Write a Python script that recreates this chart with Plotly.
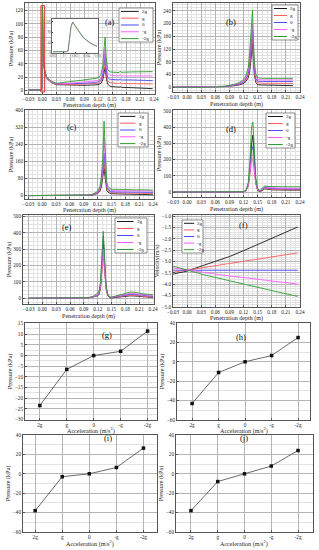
import plotly.graph_objects as go

# ---------------- data ----------------
series_names = ["2g", "g", "0", "-g", "-2g"]
accel_labels = ["2g", "g", "0", "-g", "-2g"]

# (a) pressure vs penetration depth
depth_a = [-0.03, -0.002, -0.0005, 0.0005, 0.0015, 0.003, 0.006, 0.01, 0.02, 0.03, 0.06, 0.09, 0.11, 0.12,
           0.126, 0.13, 0.133, 0.135, 0.137, 0.14, 0.145, 0.15, 0.16, 0.165, 0.167, 0.17, 0.19, 0.21, 0.23, 0.237]
a_2g = [1, 1, 5, 124, 70, 40, 25, 18, 12, 9, 8, 8, 8.5, 9, 11, 16, 28, 35, 22, 10, 7, 6, 5.5, 5, 6, 5, 4.5, 4, 3.5, 3]
a_g = [1, 1, 5, 124, 70, 40, 25, 18, 12, 9.5, 9, 10, 10.5, 11, 14, 21, 36, 45, 28, 15, 12, 11.5, 11, 10.5, 12, 10.5, 10.5, 10, 10, 10]
a_0 = [1, 1, 5, 125, 71, 41, 26, 19, 13, 10, 10, 11, 12, 13, 16, 25, 43, 55, 35, 20, 17, 16.5, 16, 16, 17.5, 16, 16, 15.5, 15, 15]
a_mg = [1, 1, 5, 125, 72, 42, 27, 19, 13, 10.5, 11, 13, 14.5, 15, 19, 30, 50, 63, 42, 26, 23, 22.5, 22, 22, 24, 22, 22, 22, 22, 22]
a_m2g = [1, 1, 5, 126, 73, 43, 28, 20, 14, 11, 13, 16, 18, 19, 24, 38, 65, 80, 52, 32, 28, 27.5, 27, 27, 29, 27.5, 28, 28, 28.5, 28.5]

# (a) inset: first impact peak
inset_depth = [-0.0018, 0.0005, 0.0008, 0.001, 0.0013, 0.0016, 0.0024, 0.0035, 0.0046, 0.0058]
inset_mg = [5, 5, 8, 52, 100, 119, 90, 57, 38, 25]
inset_m2g = [5, 5, 8, 52, 100, 118, 91, 58, 39, 26]

# (b)
depth_b = [-0.03, 0.06, 0.08, 0.09, 0.1, 0.11, 0.12, 0.125, 0.13, 0.133, 0.136, 0.139, 0.141, 0.143,
           0.146, 0.15, 0.16, 0.18, 0.2, 0.225]
b_2g = [0, 0.5, 2, 3, 5, 7, 12, 18, 30, 50, 90, 140, 80, 40, 15, 8, 7, 6, 5.5, 5]
b_g = [0, 0.5, 2, 4, 6, 9, 15, 22, 38, 65, 115, 160, 95, 45, 22, 14, 12.5, 12.5, 12, 12]
b_0 = [0, 0.5, 2, 4, 7, 10, 17, 26, 45, 78, 135, 180, 110, 55, 28, 19, 18, 18, 18, 18]
b_mg = [0, 0.5, 2.5, 4.5, 8, 12, 20, 30, 52, 90, 155, 200, 125, 65, 35, 24, 23, 23, 23, 23]
b_m2g = [0, 0.5, 3, 5, 9, 14, 24, 36, 62, 110, 190, 242, 150, 80, 42, 30, 28, 28, 28, 28]

# (c)
depth_c = [-0.03, 0.09, 0.1, 0.11, 0.12, 0.125, 0.128, 0.131, 0.134, 0.136, 0.138, 0.14, 0.143, 0.147,
           0.15, 0.16, 0.18, 0.2, 0.22, 0.24]
c_2g = [0, 0, 1, 3, 10, 20, 40, 80, 130, 90, 45, 25, 15, 10, 9, 8, 7, 6, 5, 4]
c_g = [0, 0, 1, 4, 12, 25, 50, 100, 160, 120, 60, 32, 22, 16, 14, 13, 12, 11, 11, 10]
c_0 = [0, 0, 1, 5, 14, 30, 60, 120, 200, 150, 75, 40, 28, 20, 18, 17, 16, 15, 15, 15]
c_mg = [0, 0, 1.5, 6, 16, 35, 70, 140, 270, 190, 95, 50, 35, 26, 24, 23, 23, 22, 22, 22]
c_m2g = [0, 0, 2, 7, 20, 42, 85, 170, 350, 240, 120, 60, 42, 32, 30, 29, 28, 27, 27, 26]

# (d)
depth_d = [-0.03, 0.11, 0.12, 0.125, 0.13, 0.134, 0.137, 0.14, 0.143, 0.146, 0.15, 0.155, 0.16, 0.165,
           0.17, 0.18, 0.2, 0.22, 0.24]
d_2g = [0, 0, 2, 8, 40, 150, 300, 350, 200, 60, 10, 3, 10, 20, 18, 14, 13, 12, 12]
d_g = [0, 0, 2, 8, 35, 120, 210, 200, 130, 50, 12, 5, 14, 25, 22, 17, 16, 15, 15]
d_0 = [0, 0, 2, 9, 40, 140, 260, 280, 170, 60, 15, 6, 18, 30, 27, 22, 20, 19, 19]
d_mg = [0, 0, 2, 9, 40, 130, 220, 230, 150, 55, 15, 8, 22, 34, 31, 27, 25, 24, 24]
d_m2g = [0, 0, 3, 12, 60, 220, 400, 430, 260, 90, 20, 10, 25, 38, 35, 33, 33, 33, 33]

# (e)
depth_e = [-0.03, 0.08, 0.1, 0.11, 0.115, 0.12, 0.123, 0.126, 0.129, 0.132, 0.135, 0.138, 0.142, 0.146,
           0.15, 0.16, 0.17, 0.18, 0.19, 0.2, 0.21, 0.22, 0.24]
e_2g = [0, 0, 3, 8, 12, 15, 25, 60, 180, 350, 200, 60, 15, 3, 2, 5, 10, 14, 15, 14, 11, 8, 5]
e_g = [0, 0, 3, 9, 13, 18, 30, 70, 160, 250, 170, 60, 18, 5, 4, 8, 14, 19, 20, 19, 15, 12, 8]
e_0 = [0, 0, 3, 9, 14, 20, 35, 85, 220, 380, 220, 70, 20, 6, 5, 10, 17, 23, 25, 24, 20, 16, 12]
e_mg = [0, 0, 3, 10, 15, 22, 38, 80, 190, 300, 200, 70, 22, 7, 6, 12, 20, 27, 30, 29, 25, 20, 16]
e_m2g = [0, 0, 4, 12, 20, 32, 45, 100, 260, 410, 250, 80, 25, 8, 7, 15, 25, 33, 38, 37, 32, 27, 22]

# (f) velocity
depth_f = [-0.03, 0.0, 0.03, 0.06, 0.09, 0.12, 0.15, 0.18, 0.21, 0.235]
f_2g = [-3.55, -3.42, -3.2, -3.0, -2.78, -2.52, -2.25, -1.98, -1.72, -1.48]
f_g = [-3.47, -3.39, -3.28, -3.18, -3.08, -2.98, -2.88, -2.79, -2.7, -2.62]
f_0 = [-3.38, -3.38, -3.38, -3.38, -3.38, -3.38, -3.38, -3.38, -3.38, -3.38]
f_mg = [-3.28, -3.38, -3.47, -3.55, -3.63, -3.71, -3.79, -3.86, -3.93, -3.99]
f_m2g = [-3.2, -3.38, -3.55, -3.7, -3.85, -4.0, -4.14, -4.28, -4.42, -4.53]

# (g)-(j) pressure differences vs acceleration
g_pressure = [-23.5, -6.5, 0, 2, 11.5]
h_pressure = [-43, -11, 0, 6.5, 25]
i_pressure = [-38, -3, 0, 6.5, 26.5]
j_pressure = [-38, -8, 0, 8, 24]

# ---------------- style ----------------
W, H = 319, 550
FONT = "Liberation Serif"
colors = ["#1a1a1a", "#ff5c5c", "#4a4aff", "#ff5cff", "#2e9e2e"]
TITLE_FONT = dict(size=6.1, family=FONT, color="#222222")


def dx(a, b):
    return [a / W, b / W]


def dy(top, bottom):
    return [1 - bottom / H, 1 - top / H]


def make_axis(domain, rng, dtick, anchor, title, minor_dtick, tickformat=None, tick0=None, cat=False):
    ax = dict(
        domain=domain, range=rng, anchor=anchor, automargin=False,
        showgrid=True, gridcolor="#b4b4b4", gridwidth=0.5,
        showline=True, mirror=True, linecolor="#555555", linewidth=0.8,
        ticks="inside", ticklen=2, tickwidth=0.5, tickcolor="#555555",
        tickfont=dict(size=5.2, family=FONT, color="#222222"), tickangle=0,
        zeroline=False,
        title=dict(text=title, font=TITLE_FONT, standoff=1),
    )
    if cat:
        ax["type"] = "category"
        ax["categoryorder"] = "array"
        ax["categoryarray"] = accel_labels
    else:
        ax["dtick"] = dtick
        if tick0 is not None:
            ax["tick0"] = tick0
        if minor_dtick is not None:
            ax["minor"] = dict(dtick=minor_dtick, showgrid=True, gridcolor="#e2e2e2", gridwidth=0.4,
                               ticks="")
    if tickformat:
        ax["tickformat"] = tickformat
    return ax


fig = go.Figure()
layout = dict(width=W, height=H, margin=dict(l=0, r=0, t=0, b=0), template="none",
              paper_bgcolor="white", plot_bgcolor="white", showlegend=False,
              font=dict(family=FONT, size=6))

line_panels = [
    (1, depth_a, [a_2g, a_g, a_0, a_mg, a_m2g], (25, 155, 3, 94), [-0.037, 0.242], [-5, 131], 20, 5, "Pressure (kPa)", "(a)", (103, 15), (119, 8, 153, 42), 105.5),
    (2, depth_b, [b_2g, b_g, b_0, b_mg, b_m2g], (173, 300, 3, 92), [-0.03, 0.24], [-15, 265], 40, 10, "Pressure (kPa)", "(b)", (238, 15), (272, 5, 298, 40), 104),
    (3, depth_c, [c_2g, c_g, c_0, c_mg, c_m2g], (25, 154, 110, 199), [-0.037, 0.242], [-16, 402], 80, 20, "Pressure (kPa)", "(c)", (65, 120), (118, 113, 148, 147), 211),
    (4, depth_d, [d_2g, d_g, d_0, d_mg, d_m2g], (173, 300, 110, 197), [-0.03, 0.24], [-30, 505], 100, 25, "Pressure (kPa)", "(d)", (238, 122), (266, 113, 295, 148), 209),
    (5, depth_e, [e_2g, e_g, e_0, e_mg, e_m2g], (23, 154, 215, 304), [-0.042, 0.242], [-35, 510], 100, 25, "Pressure (kPa)", "(e)", (60, 227), (115, 218, 147, 253), 316.5),
    (6, depth_f, [f_2g, f_g, f_0, f_mg, f_m2g], (173, 300, 215, 307), [-0.03, 0.24], [-5.0, -0.95], 0.5, 0.1, "Velocity(m/s)", "(f)", (250, 225), (182, 220, 203, 253), 318.5),
]

shapes = []
annotations = []


def add_xtitle(text, xc, yc):
    annotations.append(dict(text=text, x=xc / W, y=1 - yc / H, xref="paper", yref="paper",
                            xanchor="center", yanchor="middle", showarrow=False, font=TITLE_FONT))


for k, xs, ys_list, (x0, x1, y0, y1), xr, yr, ydt, ymin, ytitle, lab, labpos, lbox, xty in line_panels:
    sx = "" if k == 1 else str(k)
    for i, ys in enumerate(ys_list):
        fig.add_trace(go.Scatter(x=xs, y=ys, mode="lines", name=series_names[i],
                                 line=dict(color=colors[i], width=0.9),
                                 xaxis="x" + sx, yaxis="y" + sx))
    layout["xaxis" + sx] = make_axis(dx(x0, x1), xr, 0.03, "y" + sx, None, 0.01,
                                     tickformat=".2f", tick0=0)
    layout["yaxis" + sx] = make_axis(dy(y0, y1), yr, ydt, "x" + sx, ytitle, ymin,
                                     tickformat=".1f" if k == 6 else None, tick0=0)
    add_xtitle("Penetration depth (m)", (x0 + x1) / 2, xty)
    annotations.append(dict(text=lab, x=labpos[0] / W, y=1 - labpos[1] / H, xref="paper", yref="paper",
                            showarrow=False, font=dict(size=8.5, family=FONT, color="#111111")))
    # legend box
    bx0, by0, bx1, by1 = lbox
    shapes.append(dict(type="rect", xref="paper", yref="paper", x0=bx0 / W, x1=bx1 / W,
                       y0=1 - by1 / H, y1=1 - by0 / H, line=dict(color="#444444", width=0.6),
                       fillcolor="white", layer="above"))
    step = (by1 - by0) / 5.0
    bw = bx1 - bx0
    for i, nm in enumerate(series_names):
        yy = by0 + (i + 0.5) * step
        shapes.append(dict(type="line", xref="paper", yref="paper",
                           x0=(bx0 + 2) / W, x1=(bx0 + 0.58 * bw) / W,
                           y0=1 - yy / H, y1=1 - yy / H,
                           line=dict(color=colors[i], width=1), layer="above"))
        annotations.append(dict(text=nm, x=(bx0 + 0.62 * bw) / W, y=1 - yy / H, xref="paper", yref="paper",
                                xanchor="left", yanchor="middle", showarrow=False,
                                font=dict(size=5, family=FONT, color="#111111")))

# red box around the first impact spike in (a)
shapes.append(dict(type="rect", xref="x", yref="y", x0=-0.0028, x1=0.0052, y0=-2, y1=127,
                   line=dict(color="#e03030", width=1), fillcolor="rgba(255,80,80,0.15)", layer="above"))

# inset in (a)
fig.add_trace(go.Scatter(x=inset_depth, y=inset_mg, mode="lines", line=dict(color=colors[3], width=0.8),
                         xaxis="x11", yaxis="y11"))
fig.add_trace(go.Scatter(x=inset_depth, y=inset_m2g, mode="lines", line=dict(color=colors[4], width=0.8),
                         xaxis="x11", yaxis="y11"))
inset_font = dict(size=3, family=FONT, color="#555555")
layout["xaxis11"] = dict(domain=dx(52, 98), range=[-0.002, 0.006], anchor="y11", showgrid=False,
                         showline=True, mirror=True, linecolor="#666666", linewidth=0.5, zeroline=False,
                         ticks="inside", ticklen=1, tickfont=inset_font, dtick=0.002, automargin=False,
                         tickangle=0)
layout["yaxis11"] = dict(domain=dy(19, 53), range=[0, 130], anchor="x11", showgrid=False,
                         showline=True, mirror=True, linecolor="#666666", linewidth=0.5, zeroline=False,
                         ticks="inside", ticklen=1, tickfont=inset_font, dtick=40, automargin=False)

# (g)-(j)
cat_panels = [
    (7, g_pressure, (25, 157, 323, 420), [-0.55, 4.35], [-30.3, 15.3], 5, "(g)", (100, 335), 430.5),
    (8, h_pressure, (177, 310, 323, 420), [-0.57, 4.45], [-60, 40], 20, "(h)", (248, 337), 430.5),
    (9, i_pressure, (23, 157, 435, 532), [-0.45, 4.5], [-60, 40], 20, "(i)", (102, 445), 543),
    (10, j_pressure, (176, 313, 435, 532), [-0.56, 4.56], [-60, 40], 20, "(j)", (250, 445), 543),
]
for k, vals, (x0, x1, y0, y1), xr, yr, ydt, lab, labpos, xty in cat_panels:
    sx = str(k)
    fig.add_trace(go.Scatter(x=accel_labels, y=vals, mode="lines+markers",
                             line=dict(color="#444444", width=0.8),
                             marker=dict(symbol="square", size=3.5, color="#111111"),
                             xaxis="x" + sx, yaxis="y" + sx))
    layout["xaxis" + sx] = make_axis(dx(x0, x1), xr, None, "y" + sx, None, None, cat=True)
    layout["yaxis" + sx] = make_axis(dy(y0, y1), yr, ydt, "x" + sx, "Pressure (kPa)", ydt / 2, tick0=0)
    add_xtitle("Acceleration (m/s<sup>2</sup>)", (x0 + x1) / 2, xty)
    annotations.append(dict(text=lab, x=labpos[0] / W, y=1 - labpos[1] / H, xref="paper", yref="paper",
                            showarrow=False, font=dict(size=8.5, family=FONT, color="#111111")))

layout["shapes"] = shapes
layout["annotations"] = annotations
fig.update_layout(**layout)
fig.write_html("out.html", config={"displayModeBar": False},
               post_script="document.body.style.margin='0';document.body.style.overflow='hidden';"
                           "document.documentElement.style.overflow='hidden';")
